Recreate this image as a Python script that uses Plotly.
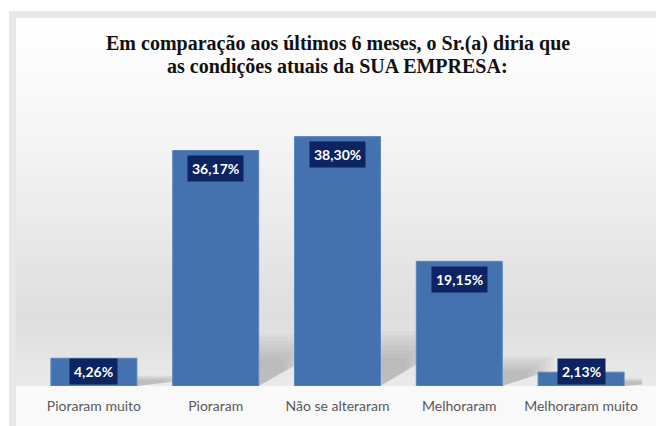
import plotly.graph_objects as go

categories = ["Pioraram muito", "Pioraram", "Não se alteraram", "Melhoraram", "Melhoraram muito"]
values = [4.26, 36.17, 38.30, 19.15, 2.13]
value_labels = ["4,26%", "36,17%", "38,30%", "19,15%", "2,13%"]
title_lines = ["Em comparação aos últimos 6 meses, o Sr.(a) diria que",
               "as condições atuais da SUA EMPRESA:"]

W, H = 656, 426
ML, MR, MT, MB = 33, 14, 93, 36
YMAX = 45
plot_w = W - ML - MR
plot_h = H - MT - MB
ppu = plot_h / YMAX  # pixels per data unit


def px_x(px):
    return (px - ML) / plot_w


def px_y(py):
    return (H - MB - py) / plot_h


fig = go.Figure()

fig.add_trace(go.Bar(
    x=list(range(len(categories))),
    y=values,
    marker=dict(color="#4372af", line=dict(color="#5b87c1", width=1)),
    hoverinfo="skip",
))

shapes = []
# outer frame
shapes.append(dict(type="rect", xref="paper", yref="paper",
                   x0=px_x(9), x1=px_x(W + 5), y0=px_y(H + 5), y1=px_y(10),
                   fillcolor="#e8e8e8", line=dict(width=0), layer="below"))


def lerp(c1, c2, t):
    return tuple(int(round(a + (b - a) * t)) for a, b in zip(c1, c2))


stops = [(17, (255, 255, 255)), (120, (247, 247, 247)), (220, (235, 235, 235)),
         (320, (222, 222, 222)), (390, (234, 234, 234)), (391, (245, 245, 245)), (426, (252, 252, 252))]
n = 90
y_top, y_bot = 17, H + 2
step = (y_bot - y_top) / n
for i in range(n):
    ya = y_top + i * step
    yb = ya + step + 0.6
    ym = ya + step / 2
    col = stops[-1][1]
    for (p0, c0), (p1, c1) in zip(stops[:-1], stops[1:]):
        if p0 <= ym <= p1:
            col = lerp(c0, c1, (ym - p0) / max(p1 - p0, 1e-6))
            break
    if ya < 390 < yb:
        yb = 390
    shapes.append(dict(type="rect", xref="paper", yref="paper",
                       x0=px_x(16), x1=px_x(W + 5), y0=px_y(yb), y1=px_y(ya),
                       fillcolor="rgb(%d,%d,%d)" % col, line=dict(width=0), layer="below"))
shapes.append(dict(type="rect", xref="paper", yref="paper",
                   x0=px_x(16), x1=px_x(W + 5), y0=px_y(H + 5), y1=px_y(390),
                   fillcolor="rgb(249,249,249)", line=dict(width=0), layer="below"))

# soft shadows cast to the right of each bar
half = (1 - 0.294) / 2
for i, v in enumerate(values):
    hs = 0.2 * v + 0.8
    xr = i + half
    for k in range(8):
        f = 1.0 - k * 0.07
        d = 0.42 - k * 0.03
        h = hs * f
        path = "M %f,0 L %f,%f L %f,%f L %f,%f Z" % (
            xr, xr, h, xr + d, h, xr + d, h * 0.55)
        shapes.append(dict(type="path", xref="x", yref="y", path=path,
                           fillcolor="rgba(0,0,0,0.025)", line=dict(width=0), layer="below"))

annotations = []
for i, (v, lab) in enumerate(zip(values, value_labels)):
    yc = max(v - 18 / ppu, 15 / ppu)
    annotations.append(dict(x=i, y=yc, xref="x", yref="y", text="<b>%s</b>" % lab,
                            showarrow=False, bgcolor="#0c2461", borderpad=4,
                            font=dict(family="Lato", size=14, color="white"),
                            yanchor="middle", xanchor="center"))

for line, cy in zip(title_lines, [43, 66]):
    annotations.append(dict(x=0.5, y=px_y(cy), xref="paper", yref="paper", text="<b>%s</b>" % line,
                            showarrow=False, font=dict(family="Liberation Serif", size=20, color="#111111"),
                            xanchor="center", yanchor="middle", align="center"))

fig.update_layout(
    width=W, height=H,
    margin=dict(l=ML, r=MR, t=MT, b=MB, pad=0),
    paper_bgcolor="white",
    plot_bgcolor="rgba(0,0,0,0)",
    showlegend=False,
    bargap=0.294,
    shapes=shapes,
    annotations=annotations,
    xaxis=dict(tickmode="array", tickvals=list(range(len(categories))), ticktext=categories,
               range=[-0.5, len(categories) - 0.5], showgrid=False, zeroline=False, showline=False,
               ticks="", tickfont=dict(family="Lato", size=14, color="#595959"), ticklabelstandoff=10),
    yaxis=dict(range=[0, YMAX], visible=False, showgrid=False, zeroline=False),
)

fig.write_html("out.html", config={"displayModeBar": False},
               post_script="document.body.style.margin='0';document.body.style.padding='0';")
